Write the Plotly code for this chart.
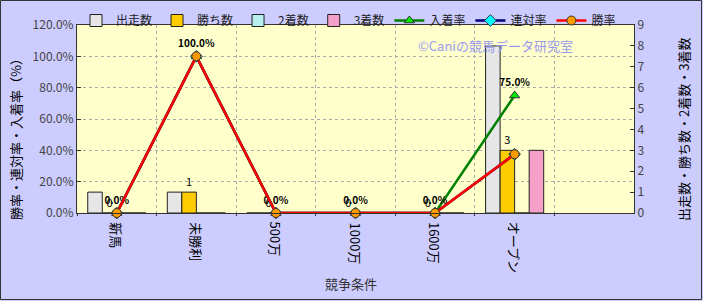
import plotly.graph_objects as go

categories = ["新馬", "未勝利", "500万", "1000万", "1600万", "オープン"]
starts = [1, 1, 0, 0, 0, 8]        # 出走数
wins = [0, 1, 0, 0, 0, 3]          # 勝ち数
seconds = [0, 0, 0, 0, 0, 0]       # 2着数
thirds = [0, 0, 0, 0, 0, 3]        # 3着数
place_rate = [0.0, 1.0, 0.0, 0.0, 0.0, 0.75]    # 入着率
rentai_rate = [0.0, 1.0, 0.0, 0.0, 0.0, 0.375]  # 連対率
win_rate = [0.0, 1.0, 0.0, 0.0, 0.0, 0.375]     # 勝率

W, H = 703, 301
L, R, T, B = 77, 69, 25, 88
PW, PH = W - L - R, H - T - B

FONT = "Noto Sans CJK JP, sans-serif"


def px_x(px):
    return (px - L) / PW


def px_y(py):
    return (T + PH - py) / PH


fig = go.Figure()

bar_specs = [
    ("出走数", starts, "#e6e6e6", None),
    ("勝ち数", wins, "#ffcc00", [str(v) for v in wins]),
    ("2着数", seconds, "#b8f0f0", None),
    ("3着数", thirds, "#f5a0c8", None),
]
for name, vals, col, txt in bar_specs:
    fig.add_trace(go.Bar(
        x=categories, y=vals, name=name, yaxis="y",
        marker=dict(color=col, line=dict(color="#222222", width=1)),
        text=txt, textposition="outside" if txt else None,
        textfont=dict(size=11, color="#000000", family=FONT),
        cliponaxis=False,
    ))

line_specs = [
    ("入着率", place_rate, "#008000", "triangle-up", "#00ee00", True),
    ("連対率", rentai_rate, "#000080", "diamond", "#00ffff", False),
    ("勝率", win_rate, "#ff0000", "circle", "#ff9900", False),
]
for name, vals, col, sym, mcol, show_txt in line_specs:
    fig.add_trace(go.Scatter(
        x=categories, y=vals, name=name, yaxis="y2",
        mode="lines+markers+text" if show_txt else "lines+markers",
        line=dict(color=col, width=2.5),
        marker=dict(symbol=sym, size=9, color=mcol, line=dict(color="#333333", width=1)),
        text=[f"<b>{v*100:.1f}%</b>" for v in vals] if show_txt else None,
        textposition="top center",
        textfont=dict(size=10, color="#000000", family=FONT),
        cliponaxis=False,
    ))

# category labels drawn as rotated annotations just below the axis
annotations = [
    dict(text=c, x=c, xref="x", y=0, yref="paper", yanchor="top", xanchor="center",
         yshift=-7, textangle=90, showarrow=False,
         font=dict(size=13, color="#000000", family=FONT))
    for c in categories
]
annotations += [
    dict(text="競争条件", xref="paper", yref="paper",
         x=px_x(351), y=px_y(283), xanchor="center", yanchor="middle",
         showarrow=False, font=dict(size=13, color="#333333", family=FONT)),
    dict(text="勝率・連対率・入着率（%）", xref="paper", yref="paper",
         x=px_x(15), y=px_y(136), xanchor="center", yanchor="middle", textangle=-90,
         showarrow=False, font=dict(size=13, color="#000000", family=FONT)),
    dict(text="出走数・勝ち数・2着数・3着数", xref="paper", yref="paper",
         x=px_x(683), y=px_y(130), xanchor="center", yanchor="middle", textangle=-90,
         showarrow=False, font=dict(size=13, color="#000000", family=FONT)),
    dict(text="©Caniの競馬データ研究室", xref="paper", yref="paper",
         x=px_x(495), y=px_y(45), xanchor="center", yanchor="middle",
         showarrow=False, font=dict(size=13, color="#9a9aee", family=FONT)),
]

fig.update_layout(
    width=W, height=H,
    margin=dict(l=L, r=R, t=T, b=B, autoexpand=False),
    paper_bgcolor="#ccccff",
    plot_bgcolor="#ffffcc",
    font=dict(family=FONT, size=12, color="#222222"),
    barmode="group", bargap=0.27, bargroupgap=0,
    showlegend=True,
    legend=dict(
        orientation="h", xref="container", yref="container",
        x=76 / W, y=1 - 6 / H, xanchor="left", yanchor="top",
        bgcolor="rgba(0,0,0,0)", font=dict(size=12, family=FONT),
        itemwidth=30, traceorder="normal",
    ),
    xaxis=dict(
        type="category", range=[-0.5, 6.5], showticklabels=False,
        tickson="boundaries", ticks="outside", ticklen=2, tickcolor="#333333",
        showgrid=True, gridcolor="#aaaaaa", griddash="dot", gridwidth=1,
        showline=True, linecolor="#333333", mirror=True,
    ),
    yaxis=dict(
        side="right", range=[0, 9], dtick=1,
        showgrid=False, zeroline=False,
        ticks="inside", ticklen=4, tickcolor="#333333",
        showline=True, linecolor="#333333",
        tickfont=dict(size=12, color="#444444"),
    ),
    yaxis2=dict(
        overlaying="y", side="left", range=[0, 1.2], dtick=0.2, tickformat=".1%",
        showgrid=True, gridcolor="#aaaaaa", griddash="dot", gridwidth=1, zeroline=False,
        ticks="inside", ticklen=4, tickcolor="#333333",
        showline=True, linecolor="#333333",
        tickfont=dict(size=12, color="#444444"),
    ),
    annotations=annotations,
    shapes=[dict(
        type="rect", xref="paper", yref="paper",
        x0=px_x(0.5), x1=px_x(W - 1.5),
        y0=px_y(H - 1.5), y1=px_y(0.5),
        line=dict(color="#333333", width=1), fillcolor="rgba(0,0,0,0)", layer="above",
    )],
)

fig.write_html("out.html")
